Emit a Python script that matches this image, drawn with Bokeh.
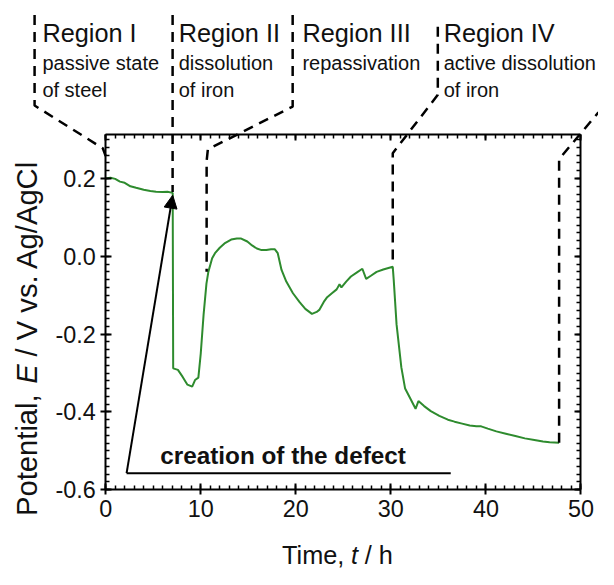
import math
from bokeh.plotting import figure
from bokeh.models import (Range1d, LinearAxis, SingleIntervalTicker,
                          NumeralTickFormatter, BasicTickFormatter, Arrow, NormalHead)
from bokeh.core.properties import value
from bokeh.embed import file_html
from bokeh.resources import INLINE

# ---------------- data ----------------
time_h = [0.0, 0.5, 1.0, 1.5, 2.0, 2.6, 3.2, 4.0, 4.7, 5.3, 6.0, 6.5, 7.05,
          7.1, 7.6, 8.1, 8.6, 9.1, 9.4, 9.75, 10.0, 10.3, 10.6, 10.8, 11.2,
          11.5, 12.0, 12.5, 13.2, 13.8, 14.2, 14.9, 15.4, 15.9, 16.4, 16.9,
          17.4, 17.8, 18.1, 18.5, 19.0, 19.7, 20.4, 21.0, 21.7, 22.2, 22.5,
          23.0, 23.3, 23.8, 24.3, 24.6, 24.8, 25.3, 25.8, 26.4, 27.0, 27.4,
          27.9, 28.5, 29.2, 30.2, 30.3, 30.6, 31.1, 31.5, 32.1, 32.6, 32.9,
          33.5, 34.2, 35.1, 36.0, 36.7, 37.5, 38.3, 39.0, 39.5, 40.2, 41.1,
          42.1, 43.1, 44.1, 45.1, 46.0, 46.7, 47.7]
potential_v = [0.200, 0.202, 0.199, 0.192, 0.189, 0.180, 0.176, 0.171, 0.168,
               0.166, 0.165, 0.166, 0.163,
               -0.288, -0.292, -0.310, -0.330, -0.335, -0.318, -0.312, -0.250,
               -0.150, -0.070, -0.040, -0.005, 0.008, 0.022, 0.033, 0.043,
               0.046, 0.046, 0.038, 0.028, 0.020, 0.016, 0.016, 0.018, 0.018,
               0.008, -0.035, -0.065, -0.095, -0.118, -0.135, -0.148, -0.143,
               -0.137, -0.115, -0.105, -0.095, -0.085, -0.072, -0.080, -0.065,
               -0.052, -0.042, -0.032, -0.058, -0.050, -0.040, -0.034, -0.027,
               -0.060, -0.175, -0.285, -0.340, -0.368, -0.392, -0.372, -0.385,
               -0.398, -0.410, -0.420, -0.425, -0.430, -0.435, -0.437, -0.437,
               -0.443, -0.450, -0.456, -0.462, -0.468, -0.472, -0.476, -0.478,
               -0.479]

x_bounds = [0, 50]
y_bounds = [-0.6, 0.3125]
x_major = 10
y_major = 0.2

region_titles = ["Region I", "Region II", "Region III", "Region IV"]
region_line1 = ["passive state", "dissolution", "repassivation", "active dissolution"]
region_line2 = ["of steel", "of iron", "", "of iron"]

# dashed region separators (time in h, potential in V)
sep1_t = [-7.48, -7.48, -0.3, 0.0]
sep1_v = [0.62, 0.3875, 0.2775, 0.2575]
sep2_t = [7.04, 7.04]
sep2_v = [0.62, 0.165]
sep3_t = [19.67, 19.67, 10.75, 10.62, 10.62]
sep3_v = [0.62, 0.385, 0.275, 0.245, -0.04]
sep4_t = [34.94, 34.94, 30.2, 30.2]
sep4_v = [0.59, 0.415, 0.265, -0.025]
sep5_t = [47.7, 47.7, 51.84]
sep5_v = [-0.479, 0.25, 0.37]

defect_t = [2.2, 36.3]
defect_v = [-0.5575, -0.5575]
arrow_tip = (7.05, 0.157)

# ---------------- layout helpers (reference pixel -> data) ----------------
REF_W, REF_H = 614, 585
PX_PER_H = 488 / 50.0
PX_PER_V = 400.0
X0_PX, Y0_PX = 108, 503  # reference pixel of (0 h, -0.6 V)
MID = 0.35  # text anchor lies about 0.35 em above the baseline
EPS = 1e-6  # keeps end ticks inside the axis bounds despite rounding


def tx(px):
    return (px - X0_PX) / PX_PER_H


def vy(py):
    return -0.6 + (Y0_PX - py) / PX_PER_V


def base_y(py, size):
    # data y of the text anchor for a baseline at reference pixel py
    return vy(py - MID * size)


W, H = 598, 569
S = (W / REF_W + H / REF_H) / 2.0


def fs(n):
    return f"{n * S:.1f}px"


p = figure(width=W, height=H, output_backend="svg", toolbar_location=None,
           x_range=Range1d(tx(0), tx(REF_W)), y_range=Range1d(vy(REF_H), vy(0)),
           x_axis_location=None, y_axis_location=None, min_border=0,
           background_fill_color="white", border_fill_color="white")
p.outline_line_color = None
for g in p.grid:
    g.visible = False

FONT = value("Liberation Sans")
INK = "#111111"


def axis(fixed, bounds, interval, show_labels, tin, tout, fmt=None):
    ax = LinearAxis(fixed_location=fixed, bounds=(bounds[0] - EPS, bounds[1] + EPS),
                    ticker=SingleIntervalTicker(interval=interval, num_minor_ticks=10),
                    axis_line_width=2, axis_line_color="black",
                    major_tick_line_width=2, major_tick_line_color="black",
                    minor_tick_line_width=1.5, minor_tick_line_color="black",
                    major_tick_in=tin, major_tick_out=tout,
                    minor_tick_in=4, minor_tick_out=0,
                    major_label_text_font="Liberation Sans",
                    major_label_text_font_size=fs(24),
                    major_label_text_color=INK if show_labels else None,
                    major_label_standoff=5)
    if fmt is not None:
        ax.formatter = fmt
    return ax


p.add_layout(axis(y_bounds[0], x_bounds, x_major, True, 6, 5, BasicTickFormatter()), "below")
p.add_layout(axis(y_bounds[1], x_bounds, x_major, False, 6, 0), "above")
p.add_layout(axis(x_bounds[0], y_bounds, y_major, True, 6, 5,
                  NumeralTickFormatter(format="0.0")), "left")
p.add_layout(axis(x_bounds[1], y_bounds, y_major, False, 6, 0), "right")

# curve
p.line(time_h, potential_v, line_color="#2e8b2e", line_width=2)

# dashed separators
for st, sv in [(sep1_t, sep1_v), (sep2_t, sep2_v), (sep3_t, sep3_v),
               (sep4_t, sep4_v), (sep5_t, sep5_v)]:
    p.line(st, sv, line_color="black", line_width=2.5, line_dash="10 7")

# defect line and arrow
p.line(defect_t, defect_v, line_color="black", line_width=2)
p.add_layout(Arrow(end=NormalHead(size=13, fill_color="black", line_color="black"),
                   x_start=defect_t[0], y_start=defect_v[0],
                   x_end=arrow_tip[0], y_end=arrow_tip[1],
                   line_color="black", line_width=2))
p.text(x=[tx(164)], y=[base_y(477, 25)], text=["creation of the defect"], text_font=FONT,
       text_font_size=fs(25), text_font_style="bold", text_color=INK,
       text_baseline="alphabetic", text_align="left")

# region annotations
reg_px = [43, 183, 310, 455]
p.text(x=[tx(v) for v in reg_px], y=[base_y(43, 26)] * 4, text=region_titles,
       text_font=FONT, text_font_size=fs(26), text_color=INK, text_baseline="alphabetic")
p.text(x=[tx(v) for v in reg_px], y=[base_y(71, 20.5)] * 4, text=region_line1,
       text_font=FONT, text_font_size=fs(20.5), text_color=INK, text_baseline="alphabetic")
l2x = [tx(v) for v, s in zip(reg_px, region_line2) if s]
p.text(x=l2x, y=[base_y(99, 20.5)] * len(l2x), text=[s for s in region_line2 if s],
       text_font=FONT, text_font_size=fs(20.5), text_color=INK, text_baseline="alphabetic")

# x axis title: "Time, t / h"
xb = base_y(579, 26)
p.text(x=[tx(353)], y=[xb], text=["Time,"], text_font=FONT, text_font_size=fs(26),
       text_color=INK, text_baseline="alphabetic", text_align="right")
p.text(x=[tx(360)], y=[xb], text=["t"], text_font=FONT, text_font_size=fs(26),
       text_font_style="italic", text_color=INK, text_baseline="alphabetic")
p.text(x=[tx(374)], y=[xb], text=["/ h"], text_font=FONT, text_font_size=fs(26),
       text_color=INK, text_baseline="alphabetic")

# y axis title: "Potential, E / V vs. Ag/AgCl" (rotated, baseline at x = 38 px)
yx = tx(38 - MID * 30)
p.text(x=[yx], y=[vy(530)], text=["Potential,"], text_font=FONT, text_font_size=fs(30),
       text_color=INK, text_baseline="alphabetic", angle=math.pi / 2)
p.text(x=[yx], y=[vy(394)], text=["E"], text_font=FONT, text_font_size=fs(30),
       text_font_style="italic", text_color=INK, text_baseline="alphabetic",
       angle=math.pi / 2)
p.text(x=[yx], y=[vy(366)], text=["/ V vs. Ag/AgCl"], text_font=FONT,
       text_font_size=fs(30), text_color=INK, text_baseline="alphabetic",
       angle=math.pi / 2)

open("out.html", "w").write(file_html(p, INLINE))
